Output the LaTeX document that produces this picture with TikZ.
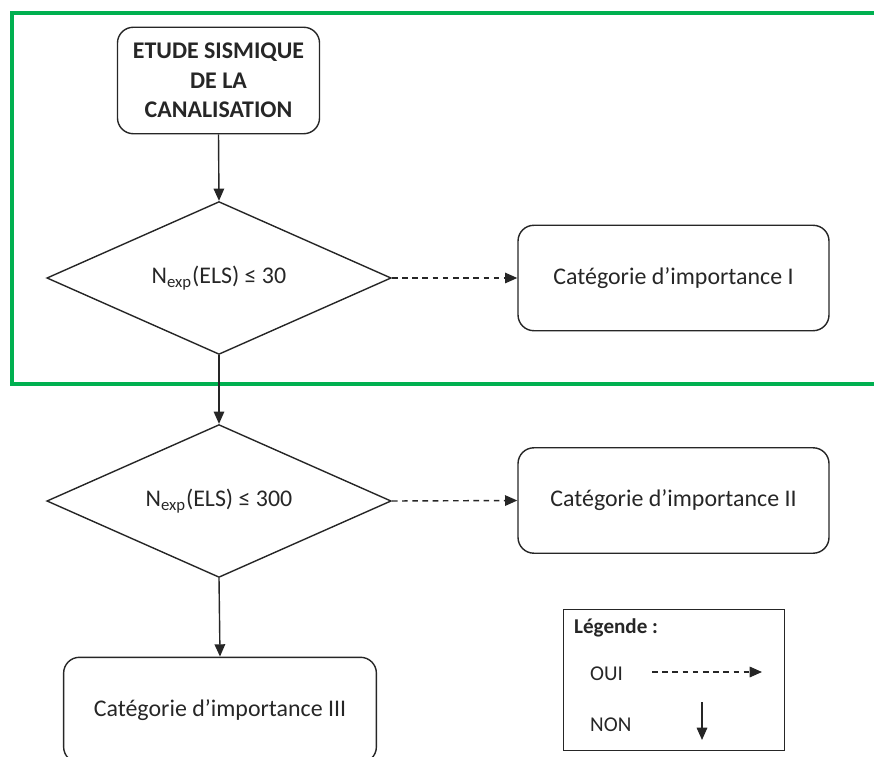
\documentclass[tikz,border=0pt]{standalone}
\usepackage{fontspec}
\setmainfont{Carlito}
\usetikzlibrary{arrows.meta,shapes.geometric}
\definecolor{frame}{HTML}{00B050}
\definecolor{ink}{HTML}{262626}
\tikzset{
  every node/.style={font=\fontsize{13.6}{16.7}\selectfont, text=ink},
  rbox/.style={draw=ink, line width=0.8pt, rounded corners=9pt, minimum height=60pt},
  decision/.style={draw=ink, line width=0.8pt, diamond, aspect=2.24, minimum width=196pt, minimum height=87pt, inner sep=0pt},
  flow/.style={draw=ink, line width=0.8pt, -{Triangle[length=7pt,width=6pt]}},
  yes/.style={flow, dashed, dash pattern=on 3.2pt off 2.6pt},
  legtext/.style={anchor=west, font=\fontsize{12}{14}\selectfont},
}
\begin{document}
\begin{tikzpicture}[x=0.02cm, y=-0.02cm]
\useasboundingbox (0,0) rectangle (874,756);
\clip (0,0) rectangle (874,756);
% green frame around the first decision
\draw[frame, line width=2.2pt] (12,13) rectangle (890,384);

% start box
\node[rbox, minimum width=115pt, minimum height=60.6pt, align=center, inner sep=0pt, font=\fontsize{13.6}{16.7}\selectfont\bfseries]
  (start) at (218.5,80.5) {ETUDE SISMIQUE\\DE LA\\CANALISATION};

% decisions
\node[decision] (d1) at (219,278) {N\textsubscript{exp}(ELS) ≤ 30};
\node[decision] (d2) at (219,501) {N\textsubscript{exp}(ELS) ≤ 300};

% outcome boxes
\node[rbox, minimum width=177pt] (c1) at (673.5,278) {Catégorie d’importance I};
\node[rbox, minimum width=177pt] (c2) at (673.5,500.5) {Catégorie d’importance II};
\node[rbox, minimum width=178pt] (c3) at (220,710) {Catégorie d’importance III};

% connectors
\draw[flow] (start.south) -- (d1.north);
\draw[flow] (d1.south) -- (d2.north);
\draw[flow] (d2.south) -- (c3.north);
\draw[yes] (d1.east) -- (c1.west);
\draw[yes] (d2.east) -- (c2.west);

% legend
\node[draw=ink, line width=0.8pt, minimum width=125.8pt, minimum height=80.5pt, inner sep=0pt] (leg) at (674,680) {};
\node[legtext, font=\fontsize{12}{14}\selectfont\bfseries] (legt) at (568,628) {Légende :};
\node[legtext] (oui) at (584,674) {OUI};
\node[legtext] (non) at (584,725) {NON};
\coordinate (y0) at (652,672);
\coordinate (y1) at (762,672);
\coordinate (n0) at (702,702);
\coordinate (n1) at (702,740);
\draw[yes] (y0) -- (y1);
\draw[flow] (n0) -- (n1);
\end{tikzpicture}
\end{document}
